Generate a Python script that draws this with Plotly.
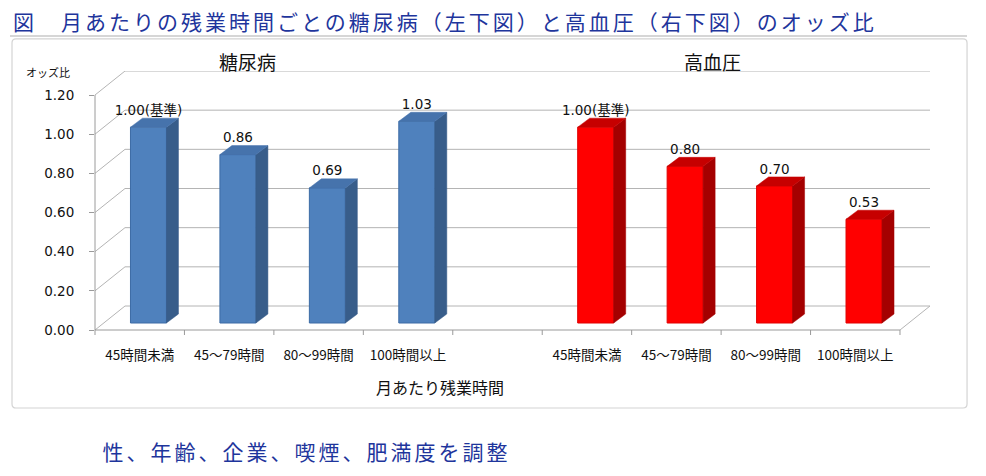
import plotly.graph_objects as go

# ---------------- data ----------------
categories = ["45時間未満", "45～79時間", "80～99時間", "100時間以上"]
diabetes = [1.00, 0.86, 0.69, 1.03]
hypertension = [1.00, 0.80, 0.70, 0.53]
diabetes_labels = ["1.00(基準)", "0.86", "0.69", "1.03"]
hypertension_labels = ["1.00(基準)", "0.80", "0.70", "0.53"]
group_titles = ["糖尿病", "高血圧"]
yticks = [0.0, 0.2, 0.4, 0.6, 0.8, 1.0, 1.2]
ytick_text = ["0.00", "0.20", "0.40", "0.60", "0.80", "1.00", "1.20"]
title_text = "図　月あたりの残業時間ごとの糖尿病（左下図）と高血圧（右下図）のオッズ比"
note_text = "性、年齢、企業、喫煙、肥満度を調整"
x_title = "月あたり残業時間"
y_title = "オッズ比"

left_pos = [0, 1, 2, 3]
right_pos = [5, 6, 7, 8]
n_slots = 9

# ---------------- geometry (pixel scale of the pseudo 3D box) ----------------
W, H = 986, 476
PX_X = 89.44          # px per category slot
PX_Y = 195.8          # px per odds unit
LEFT_PX = 95
FLOOR_PX = 330
WALL_DX = 30 / PX_X
WALL_DY = 24 / PX_Y
BAR_OFF_X = 8.75 / PX_X
BAR_OFF_Y = 7 / PX_Y
BAR_W = 36 / PX_X
BAR_DX = 12 / PX_X
BAR_DY = 9 / PX_Y
LETTER_SP = 3

x_min = -0.5
x_front_max = n_slots - 0.5
x_range = [x_min, x_front_max + WALL_DX]
y_top = max(yticks)
y_range = [0, y_top + WALL_DY]
plot_w = (x_range[1] - x_range[0]) * PX_X
plot_h = (y_range[1] - y_range[0]) * PX_Y
m_l = LEFT_PX
m_b = H - FLOOR_PX
m_r = W - m_l - plot_w
m_t = H - m_b - plot_h


def px_x(px):
    return (px - m_l) / plot_w


def px_y(py):
    return (H - m_b - py) / plot_h


def dpx(xv):
    return (xv - x_range[0]) / (x_range[1] - x_range[0])


GRID = "#B4B4B4"
AXIS = "#9A9A9A"

fig = go.Figure()

series = [
    (left_pos, diabetes, diabetes_labels, "#4F81BD", "#3C6BA5", "#385D8A", "#4673AC"),
    (right_pos, hypertension, hypertension_labels, "#FF0000", "#E00000", "#A40000", "#C60000"),
]

for pos, vals, labs, c_front, c_line, c_side, c_top in series:
    xc = [p + BAR_OFF_X for p in pos]
    fig.add_trace(go.Bar(
        x=xc, y=vals, base=BAR_OFF_Y, width=BAR_W,
        marker=dict(color=c_front, line=dict(color=c_line, width=1)),
        hoverinfo="skip", showlegend=False,
    ))
    sx, sy, tx, ty = [], [], [], []
    for x, v in zip(xc, vals):
        xl = x - BAR_W / 2
        xr = x + BAR_W / 2
        b = BAR_OFF_Y
        t = BAR_OFF_Y + v
        sx += [xr, xr + BAR_DX, xr + BAR_DX, xr, xr, None]
        sy += [b, b + BAR_DY, t + BAR_DY, t, b, None]
        tx += [xl, xr, xr + BAR_DX, xl + BAR_DX, xl, None]
        ty += [t, t, t + BAR_DY, t + BAR_DY, t, None]
    fig.add_trace(go.Scatter(x=sx, y=sy, mode="lines", fill="toself", fillcolor=c_side,
                             line=dict(color=c_side, width=0.5), hoverinfo="skip", showlegend=False))
    fig.add_trace(go.Scatter(x=tx, y=ty, mode="lines", fill="toself", fillcolor=c_top,
                             line=dict(color=c_top, width=0.5), hoverinfo="skip", showlegend=False))
    fig.add_trace(go.Scatter(
        x=xc, y=[BAR_OFF_Y + v + BAR_DY for v in vals], mode="text", text=labs,
        textposition="top center", cliponaxis=False,
        textfont=dict(family="DejaVu Sans, Noto Sans CJK JP", size=13.5, color="#111111"),
        hoverinfo="skip", showlegend=False,
    ))

shapes = []
# back wall gridlines and side wall diagonals
for v in yticks:
    shapes.append(dict(type="line", xref="x", yref="y", layer="below",
                       x0=x_min + WALL_DX, x1=x_front_max + WALL_DX,
                       y0=v + WALL_DY, y1=v + WALL_DY, line=dict(color=GRID, width=1)))
    shapes.append(dict(type="line", xref="paper", yref="y", layer="below",
                       x0=dpx(x_min), x1=dpx(x_min + WALL_DX),
                       y0=v, y1=v + WALL_DY, line=dict(color=GRID, width=1)))
# floor right edge
shapes.append(dict(type="line", xref="x", yref="paper", layer="below",
                   x0=x_front_max, x1=x_front_max + WALL_DX,
                   y0=0, y1=WALL_DY / y_range[1], line=dict(color=GRID, width=1)))
# front floor edge
shapes.append(dict(type="line", xref="paper", yref="paper", layer="below",
                   x0=dpx(x_min), x1=dpx(x_front_max), y0=0, y1=0,
                   line=dict(color=AXIS, width=1)))
# front vertical axis
shapes.append(dict(type="line", xref="paper", yref="paper", layer="below",
                   x0=0, x1=0, y0=0, y1=y_top / y_range[1],
                   line=dict(color=AXIS, width=1)))
# x tick marks at slot boundaries
for i in range(n_slots + 1):
    xb = x_min + i
    shapes.append(dict(type="line", xref="paper", yref="paper", layer="below",
                       x0=dpx(xb), x1=dpx(xb), y0=0, y1=px_y(FLOOR_PX + 5),
                       line=dict(color=AXIS, width=1)))
# title separator line
shapes.append(dict(type="line", xref="paper", yref="paper", layer="below",
                   x0=px_x(10), x1=px_x(967), y0=px_y(36), y1=px_y(36),
                   line=dict(color="#C8C8C8", width=1.5)))
# chart frame (rounded rectangle)
fx0, fx1, fy0, fy1, r = 12, 967, 39, 408, 4


def P(x, y):
    return f"{px_x(x):.5f},{px_y(y):.5f}"


frame_path = (f"M {P(fx0 + r, fy0)} L {P(fx1 - r, fy0)} Q {P(fx1, fy0)} {P(fx1, fy0 + r)} "
              f"L {P(fx1, fy1 - r)} Q {P(fx1, fy1)} {P(fx1 - r, fy1)} "
              f"L {P(fx0 + r, fy1)} Q {P(fx0, fy1)} {P(fx0, fy1 - r)} "
              f"L {P(fx0, fy0 + r)} Q {P(fx0, fy0)} {P(fx0 + r, fy0)} Z")
shapes.append(dict(type="path", xref="paper", yref="paper", layer="below", path=frame_path,
                   line=dict(color="#D4D4D4", width=1.2)))

BLUE_TXT = "#1E359C"
JP = "Noto Sans CJK JP"
# letter spacing is applied after rendering and grows the text around its centre,
# so the left-anchored positions are shifted by half of the added width
title_x = 11 + len(title_text) * LETTER_SP / 2
note_x = 100 + len(note_text) * LETTER_SP / 2
annotations = [
    dict(text=title_text, x=px_x(title_x), y=px_y(21), xref="paper", yref="paper",
         xanchor="left", yanchor="middle", showarrow=False,
         font=dict(family=JP, size=21, color=BLUE_TXT)),
    dict(text=note_text, x=px_x(note_x), y=px_y(451), xref="paper", yref="paper",
         xanchor="left", yanchor="middle", showarrow=False,
         font=dict(family=JP, size=21, color=BLUE_TXT)),
    dict(text=group_titles[0], x=px_x(247), y=px_y(62), xref="paper", yref="paper",
         xanchor="center", yanchor="middle", showarrow=False,
         font=dict(family=JP, size=19, color="#111111")),
    dict(text=group_titles[1], x=px_x(712), y=px_y(62), xref="paper", yref="paper",
         xanchor="center", yanchor="middle", showarrow=False,
         font=dict(family=JP, size=19, color="#111111")),
    dict(text=y_title, x=px_x(48), y=px_y(72), xref="paper", yref="paper",
         xanchor="center", yanchor="middle", showarrow=False,
         font=dict(family=JP, size=11, color="#111111")),
    dict(text=x_title, x=px_x(440), y=px_y(387), xref="paper", yref="paper",
         xanchor="center", yanchor="middle", showarrow=False,
         font=dict(family=JP, size=16, color="#111111")),
]

fig.update_layout(
    width=W, height=H,
    margin=dict(l=m_l, r=m_r, t=m_t, b=m_b, pad=0),
    paper_bgcolor="white", plot_bgcolor="rgba(0,0,0,0)",
    showlegend=False, barmode="overlay",
    shapes=shapes, annotations=annotations,
    xaxis=dict(range=x_range, showgrid=False, zeroline=False, showline=False,
               tickmode="array", tickvals=left_pos + right_pos, ticktext=categories + categories,
               ticks="", ticklabelstandoff=15,
               tickfont=dict(family=JP, size=13.5, color="#111111"), fixedrange=True),
    yaxis=dict(range=y_range, showgrid=False, zeroline=False, showline=False,
               tickmode="array", tickvals=yticks, ticktext=ytick_text,
               ticks="outside", ticklen=5, tickcolor=AXIS, ticklabelstandoff=12,
               tickfont=dict(family="DejaVu Sans", size=13.5, color="#111111"), fixedrange=True),
)

post = """
document.querySelectorAll('.annotation-text').forEach(function(el){
  var t = el.textContent || '';
  if (t.indexOf('図　') === 0 || t.indexOf('性、') === 0) {
    el.style.letterSpacing = '%dpx';
  }
});
""" % LETTER_SP

fig.write_html("out.html", post_script=post, config={"displayModeBar": False})
